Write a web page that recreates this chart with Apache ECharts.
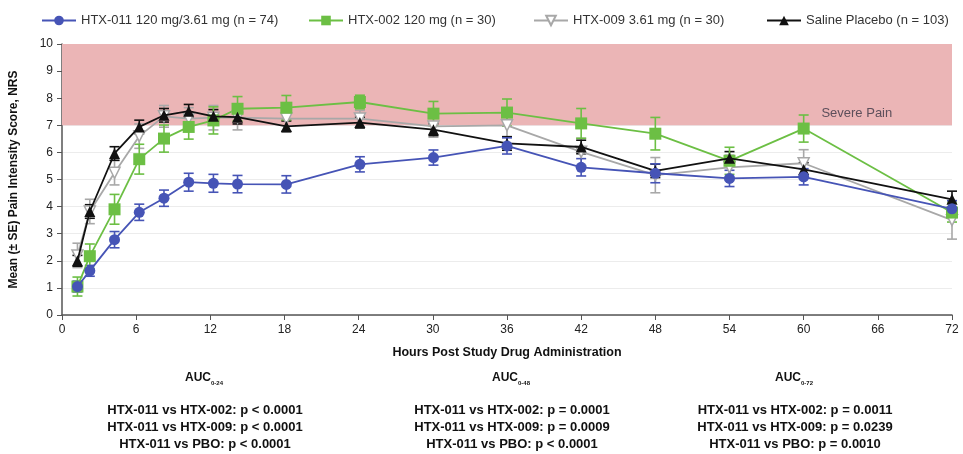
<!DOCTYPE html>
<html><head><meta charset="utf-8">
<script src="https://cdn.jsdelivr.net/npm/echarts@6/dist/echarts.min.js"></script>
<style>html,body{margin:0;padding:0;background:#fff}#c{width:963px;height:454px}</style>
</head><body><div id="c"></div>
<script>
const hours = [1.25, 2.25, 4.25, 6.25, 8.25, 10.25, 12.25, 14.2, 18.15, 24.1, 30.05, 36, 42, 48, 54, 60, 72];
const xTicks = [0, 6, 12, 18, 24, 30, 36, 42, 48, 54, 60, 66, 72];

const names = ['HTX-011 120 mg/3.61 mg (n = 74)', 'HTX-002 120 mg (n = 30)', 'HTX-009 3.61 mg (n = 30)', 'Saline Placebo (n = 103)'];

const htx011 = [1.05, 1.63, 2.78, 3.79, 4.31, 4.90, 4.86, 4.83, 4.82, 5.56, 5.81, 6.24, 5.45, 5.23, 5.04, 5.10, 3.92];
const htx011Se = [0.2, 0.2, 0.3, 0.3, 0.3, 0.33, 0.33, 0.32, 0.32, 0.28, 0.28, 0.3, 0.32, 0.35, 0.3, 0.3, 0.3];

const htx002 = [1.05, 2.17, 3.90, 5.75, 6.51, 6.94, 7.18, 7.61, 7.65, 7.86, 7.43, 7.47, 7.07, 6.69, 5.69, 6.88, 3.78];
const htx002Se = [0.35, 0.45, 0.55, 0.55, 0.5, 0.45, 0.5, 0.45, 0.45, 0.25, 0.45, 0.5, 0.55, 0.6, 0.5, 0.5, 0.35];

const htx009 = [2.2, 3.82, 5.25, 6.6, 7.33, 7.25, 7.28, 7.28, 7.25, 7.25, 6.96, 7.0, 6.02, 5.16, 5.45, 5.6, 3.5];
const htx009Se = [0.45, 0.45, 0.45, 0.45, 0.4, 0.4, 0.45, 0.45, 0.45, 0.3, 0.4, 0.45, 0.5, 0.65, 0.45, 0.5, 0.7];

const placebo = [2.0, 3.82, 5.96, 6.94, 7.37, 7.52, 7.33, 7.30, 6.96, 7.10, 6.84, 6.33, 6.20, 5.32, 5.78, 5.37, 4.27];
const placeboSe = [0.2, 0.25, 0.25, 0.25, 0.25, 0.25, 0.25, 0.25, 0.2, 0.2, 0.22, 0.25, 0.25, 0.25, 0.25, 0.25, 0.3];

const severeBand = [7, 10];
const severeLabel = 'Severe Pain';

const colors = ['#4654b6', '#6cbf44', '#a8a8a8', '#111111'];

function pairs(vals) { return hours.map((h, i) => [h, vals[i]]); }

function errSeries(vals, se, color, name) {
  const data = hours.map((h, i) => [h, vals[i] - se[i], vals[i] + se[i]]);
  return {
    type: 'custom', name: name + ' SE', z: 3, silent: true,
    itemStyle: { color: color },
    data: data,
    encode: { x: 0, y: [1, 2] },
    renderItem: function (params, api) {
      const x = api.value(0);
      const lo = api.coord([x, api.value(1)]);
      const hi = api.coord([x, api.value(2)]);
      const w = 5;
      const st = { stroke: color, lineWidth: 1.6 };
      return {
        type: 'group',
        children: [
          { type: 'line', shape: { x1: lo[0], y1: lo[1], x2: hi[0], y2: hi[1] }, style: st },
          { type: 'line', shape: { x1: lo[0] - w, y1: lo[1], x2: lo[0] + w, y2: lo[1] }, style: st },
          { type: 'line', shape: { x1: hi[0] - w, y1: hi[1], x2: hi[0] + w, y2: hi[1] }, style: st }
        ]
      };
    }
  };
}

const chart = echarts.init(document.getElementById('c'), null, { renderer: 'canvas' });

const legendBase = { top: 9, itemWidth: 34, itemHeight: 12, textStyle: { fontSize: 13, color: '#333', fontFamily: 'Liberation Sans, Arial, sans-serif' } };
const bold = 'Liberation Sans Narrow, Arial Narrow, Liberation Sans, Arial, sans-serif';

function block(cx, sub, lines) {
  return [
    { type: 'text', left: cx - 20, top: 372, style: { text: '{a|AUC}{s|' + sub + '}', rich: { a: { fontSize: 12, fontWeight: 'bold', fontFamily: bold, fill: '#111' }, s: { fontSize: 6, fontWeight: 'bold', fontFamily: bold, fill: '#111', padding: [10, 0, 0, 0] } } } },
    { type: 'text', x: cx, y: 402, style: { text: lines.join('\n'), textAlign: 'center', fontSize: 13, lineHeight: 17, fontWeight: 'bold', fontFamily: bold, fill: '#111' } }
  ];
}

const option = {
  backgroundColor: '#fff',
  animation: false,
  legend: [
    Object.assign({ left: 36, data: [names[0]] }, legendBase),
    Object.assign({ left: 303, data: [names[1]] }, legendBase),
    Object.assign({ left: 528, data: [names[2]] }, legendBase),
    Object.assign({ left: 761, data: [names[3]] }, legendBase)
  ],
  grid: { left: 62, right: 11, top: 44, bottom: 139 },
  xAxis: {
    type: 'value', min: 0, max: 72, interval: 6,
    name: 'Hours Post Study Drug Administration', nameLocation: 'middle', nameGap: 31,
    nameTextStyle: { fontSize: 12.5, fontWeight: 'bold', color: '#111', fontFamily: 'Liberation Sans, Arial, sans-serif' },
    axisLine: { lineStyle: { color: '#555', width: 1.5 } },
    axisTick: { show: true, length: 5, lineStyle: { color: '#555' } },
    axisLabel: { fontSize: 12, color: '#222', margin: 9, fontFamily: 'Liberation Sans, Arial, sans-serif', formatter: v => xTicks.includes(v) ? String(v) : '' },
    splitLine: { show: false }
  },
  yAxis: {
    type: 'value', min: 0, max: 10, interval: 1,
    name: 'Mean (± SE) Pain Intensity Score, NRS', nameLocation: 'middle', nameGap: 42,
    nameTextStyle: { fontSize: 12, fontWeight: 'bold', color: '#111', fontFamily: 'Liberation Sans, Arial, sans-serif' },
    axisLine: { show: true, lineStyle: { color: '#555', width: 1.5 } },
    axisTick: { show: true, length: 5, lineStyle: { color: '#555' } },
    axisLabel: { fontSize: 12, color: '#222', margin: 9, fontFamily: 'Liberation Sans, Arial, sans-serif' },
    splitLine: { show: true, lineStyle: { color: '#ececec', width: 1 } }
  },
  series: [
    {
      type: 'line', name: '_band', data: [], silent: true, z: 1,
      markArea: {
        silent: true,
        itemStyle: { color: '#ebb5b6' },
        label: { show: false },
        data: [[{ yAxis: severeBand[0], xAxis: 0 }, { yAxis: severeBand[1], xAxis: 72 }]]
      },
      markPoint: {
        symbol: 'rect', symbolSize: 1, itemStyle: { color: 'transparent' },
        label: { show: true, position: 'inside', formatter: severeLabel, fontSize: 13, color: '#5d4f5b', fontFamily: 'Liberation Sans, Arial, sans-serif' },
        data: [{ coord: [64.3, 7.45] }]
      }
    },
    errSeries(htx009, htx009Se, colors[2], names[2]),
    errSeries(placebo, placeboSe, colors[3], names[3]),
    errSeries(htx002, htx002Se, colors[1], names[1]),
    errSeries(htx011, htx011Se, colors[0], names[0]),
    { type: 'line', name: names[2], data: pairs(htx009), symbol: 'triangle', symbolRotate: 180, symbolSize: 11, z: 4,
      color: colors[2],
      lineStyle: { color: colors[2], width: 1.8 }, itemStyle: { color: '#fff', borderColor: colors[2], borderWidth: 1.5 } },
    { type: 'line', name: names[3], data: pairs(placebo), symbol: 'triangle', symbolSize: 11, z: 5,
      color: colors[3],
      lineStyle: { color: colors[3], width: 1.8 }, itemStyle: { color: colors[3] } },
    { type: 'line', name: names[1], data: pairs(htx002), symbol: 'rect', symbolSize: 12, z: 4,
      color: colors[1],
      lineStyle: { color: colors[1], width: 1.8 }, itemStyle: { color: colors[1] } },
    { type: 'line', name: names[0], data: pairs(htx011), symbol: 'circle', symbolSize: 11, z: 6,
      color: colors[0],
      lineStyle: { color: colors[0], width: 1.8 }, itemStyle: { color: colors[0] } }
  ],
  graphic: [].concat(
    block(205, '0-24', ['HTX-011 vs HTX-002: p < 0.0001', 'HTX-011 vs HTX-009: p < 0.0001', 'HTX-011 vs PBO: p < 0.0001']),
    block(512, '0-48', ['HTX-011 vs HTX-002: p = 0.0001', 'HTX-011 vs HTX-009: p = 0.0009', 'HTX-011 vs PBO: p < 0.0001']),
    block(795, '0-72', ['HTX-011 vs HTX-002: p = 0.0011', 'HTX-011 vs HTX-009: p = 0.0239', 'HTX-011 vs PBO: p = 0.0010'])
  )
};
chart.setOption(option);
</script>
</body></html>
